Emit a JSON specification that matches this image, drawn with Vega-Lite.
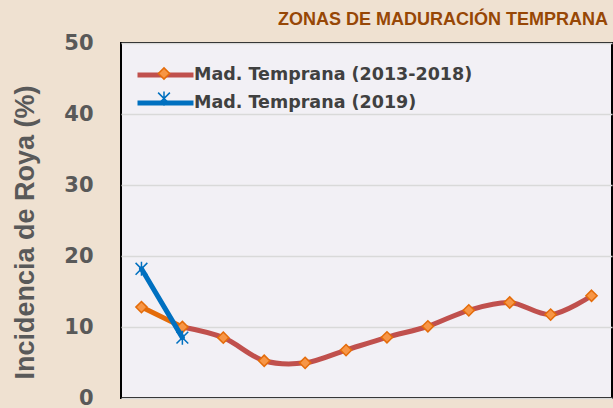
{
  "$schema": "https://vega.github.io/schema/vega-lite/v6.json",
  "width": 491,
  "height": 355,
  "autosize": {"type": "none"},
  "padding": {"left": 121, "top": 43, "right": 1, "bottom": 10},
  "background": "#efe1d1",
  "title": {"text": "ZONAS DE MADURACIÓN TEMPRANA", "anchor": "end", "font": "Liberation Sans", "fontSize": 18, "fontWeight": "bold", "color": "#974706", "offset": 3, "dx": -4},
  "config": {"view": {"fill": "#f2f0f5", "stroke": "#000000", "strokeWidth": 2}},
  "data": {"values": [
    {"x": 1, "v": 12.8, "s": "Mad. Temprana (2013-2018)"},
    {"x": 2, "v": 10.0, "s": "Mad. Temprana (2013-2018)"},
    {"x": 3, "v": 8.5, "s": "Mad. Temprana (2013-2018)"},
    {"x": 4, "v": 5.25, "s": "Mad. Temprana (2013-2018)"},
    {"x": 5, "v": 4.95, "s": "Mad. Temprana (2013-2018)"},
    {"x": 6, "v": 6.75, "s": "Mad. Temprana (2013-2018)"},
    {"x": 7, "v": 8.55, "s": "Mad. Temprana (2013-2018)"},
    {"x": 8, "v": 10.1, "s": "Mad. Temprana (2013-2018)"},
    {"x": 9, "v": 12.35, "s": "Mad. Temprana (2013-2018)"},
    {"x": 10, "v": 13.45, "s": "Mad. Temprana (2013-2018)"},
    {"x": 11, "v": 11.75, "s": "Mad. Temprana (2013-2018)"},
    {"x": 12, "v": 14.4, "s": "Mad. Temprana (2013-2018)"},
    {"x": 1, "v": 18.2, "s": "Mad. Temprana (2019)"},
    {"x": 2, "v": 8.5, "s": "Mad. Temprana (2019)"}
  ]},
  "encoding": {
    "x": {"field": "x", "type": "ordinal", "scale": {"type": "point", "padding": 0.5}, "axis": null},
    "y": {"field": "v", "type": "quantitative", "scale": {"domain": [0, 50], "nice": false},
      "axis": {"values": [0, 10, 20, 30, 40, 50], "title": "Incidencia de Roya (%)", "grid": true, "gridColor": "#d9d9d9", "gridWidth": 1.5, "domain": false, "ticks": false, "tickSize": 0, "labelPadding": 28, "labelFlush": false, "labelOverlap": false, "labelFont": "DejaVu Sans", "labelFontSize": 21, "labelFontWeight": "bold", "labelColor": "#595959", "titleFont": "Liberation Sans", "titleFontSize": 27, "titleFontWeight": "bold", "titleColor": "#595959", "titleAngle": 270, "titleX": -88, "titleY": 189, "titleAlign": "center", "titleBaseline": "alphabetic"}}
  },
  "layer": [
    {
      "transform": [{"filter": "datum.s === 'Mad. Temprana (2013-2018)' && datum.x >= 2"}],
      "mark": {"type": "line", "interpolate": "catmull-rom", "strokeWidth": 5, "strokeCap": "round"},
      "encoding": {"color": {"field": "s", "type": "nominal", "scale": {"domain": ["Mad. Temprana (2013-2018)", "Mad. Temprana (2019)"], "range": ["#c0504d", "#0070c0"]},
        "legend": {"orient": "none", "legendX": 28, "legendY": 15.5, "title": null, "padding": 0, "symbolType": "M-2,0L2,0", "symbolSize": 784, "symbolStrokeWidth": 5, "labelOffset": 12, "labelFont": "DejaVu Sans", "labelFontSize": 17.5, "labelFontWeight": "bold", "labelColor": "#404040", "rowPadding": 1, "labelLimit": 400}}}
    },
    {
      "transform": [{"filter": "datum.s === 'Mad. Temprana (2013-2018)' && datum.x <= 2"}],
      "mark": {"type": "line", "strokeWidth": 5, "color": "#e46c0a", "strokeCap": "round"},
      "encoding": {}
    },
    {
      "transform": [{"filter": "datum.s === 'Mad. Temprana (2013-2018)'"}],
      "mark": {"type": "point", "size": 784, "strokeWidth": 1.5, "opacity": 1},
      "encoding": {
        "shape": {"field": "s", "type": "nominal", "scale": {"range": ["M0,-0.4L0.4,0L0,0.4L-0.4,0Z", "M-0.42,-0.42L0.42,0.42M-0.42,0.42L0.42,-0.42M0,-0.5L0,0.5"]},
          "legend": {"orient": "none", "legendX": 28, "legendY": 15.5, "title": null, "padding": 0, "symbolSize": 784, "symbolStrokeWidth": 1.5, "labelOffset": 12, "labelFont": "DejaVu Sans", "labelFontSize": 17.5, "labelFontWeight": "bold", "labelExpr": "''", "rowPadding": 1, "labelLimit": 400}},
        "fill": {"field": "s", "type": "nominal", "scale": {"range": ["#f79646", "transparent"]},
          "legend": {"orient": "none", "legendX": 28, "legendY": 15.5, "title": null, "padding": 0, "symbolSize": 784, "symbolStrokeWidth": 1.5, "labelOffset": 12, "labelFont": "DejaVu Sans", "labelFontSize": 17.5, "labelFontWeight": "bold", "labelExpr": "''", "rowPadding": 1, "labelLimit": 400}},
        "stroke": {"field": "s", "type": "nominal", "scale": {"range": ["#e46c0a", "#0070c0"]},
          "legend": {"orient": "none", "legendX": 28, "legendY": 15.5, "title": null, "padding": 0, "symbolSize": 784, "symbolStrokeWidth": 1.5, "labelOffset": 12, "labelFont": "DejaVu Sans", "labelFontSize": 17.5, "labelFontWeight": "bold", "labelExpr": "''", "rowPadding": 1, "labelLimit": 400}}
      }
    },
    {
      "transform": [{"filter": "datum.s === 'Mad. Temprana (2019)'"}],
      "mark": {"type": "line", "strokeWidth": 5, "strokeCap": "round"},
      "encoding": {"color": {"field": "s", "type": "nominal"}}
    },
    {
      "transform": [{"filter": "datum.s === 'Mad. Temprana (2019)'"}],
      "mark": {"type": "point", "size": 784, "strokeWidth": 1.5, "opacity": 1},
      "encoding": {
        "shape": {"field": "s", "type": "nominal"},
        "fill": {"field": "s", "type": "nominal"},
        "stroke": {"field": "s", "type": "nominal"}
      }
    }
  ]
}
